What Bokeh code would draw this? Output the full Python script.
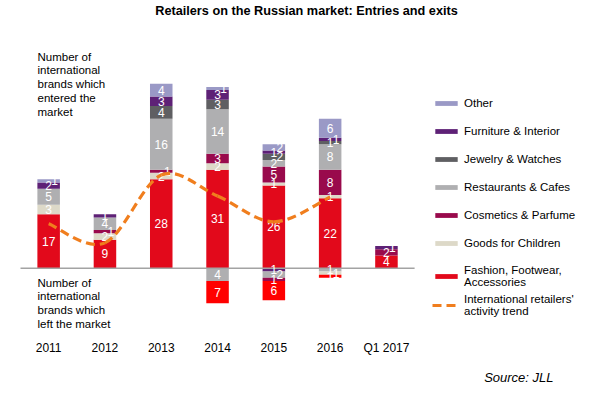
from bokeh.plotting import figure
from bokeh.models import (ColumnDataSource, Legend, LegendItem, Label, Range1d, FixedTicker, Title)
from bokeh.core.properties import value
from bokeh.embed import file_html
from bokeh.resources import INLINE

# ---------------- data ----------------
years = ["2011", "2012", "2013", "2014", "2015", "2016", "Q1 2017"]

keys = ["fashion", "children", "cosmetics", "restaurants", "jewelry", "furniture", "other"]
names = ["Fashion, Footwear,\nAccessories", "Goods for Children", "Cosmetics & Parfume",
         "Restaurants & Cafes", "Jewelry & Watches", "Furniture & Interior", "Other"]

# brands which entered the market
fashion_in = [17, 9, 28, 31, 26, 22, 4]
children_in = [3, 2, 2, 2, 1, 1, 0]
cosmetics_in = [0, 1, 1, 3, 5, 8, 2]
restaurants_in = [5, 4, 16, 14, 2, 8, 0]
jewelry_in = [0, 0, 4, 3, 2, 1, 0]
furniture_in = [2, 1, 3, 3, 1, 1, 1]
other_in = [1, 0, 4, 1, 2, 6, 0]

# brands which left the market
fashion_out = [0, 0, 0, 7, 6, 1, 0]
children_out = [0, 0, 0, 0, 0, 1, 0]
cosmetics_out = [0, 0, 0, 0, 1, 0, 0]
restaurants_out = [0, 0, 0, 4, 2, 1, 0]
jewelry_out = [0, 0, 0, 0, 0, 0, 0]
furniture_out = [0, 0, 0, 0, 1, 0, 0]
other_out = [0, 0, 0, 0, 0, 0, 0]

# international retailers' activity trend
trend_years = ["2011", "2012", "2013", "2014", "2015", "2016"]
trend_values = [14.0, 8.0, 29.3, 22.7, 14.6, 22.4]

# ---------------- styles ----------------
colors = {"fashion": "#E2091B", "children": "#DDD9C8", "cosmetics": "#990A4C",
          "restaurants": "#AFAFB1", "jewelry": "#5F5F62", "furniture": "#5E2176",
          "other": "#9A99C6"}
exit_colors = dict(colors, fashion="#FF0000")
trend_color = "#F07E1E"
FONT = "Liberation Sans"

entries = dict(fashion=fashion_in, children=children_in, cosmetics=cosmetics_in,
               restaurants=restaurants_in, jewelry=jewelry_in, furniture=furniture_in,
               other=other_in)
exits = dict(fashion=fashion_out, children=children_out, cosmetics=cosmetics_out,
             restaurants=restaurants_out, jewelry=jewelry_out, furniture=furniture_out,
             other=other_out)

pos = [i + 0.5 for i in range(len(years))]      # category centres on the x scale
src_in = ColumnDataSource(dict(x=pos, **entries))
src_out = ColumnDataSource(dict(x=pos, **{k: [-v for v in exits[k]] for k in keys}))

pad = 0.3552          # blank space left of the first category (in category widths)
p = figure(x_range=Range1d(-pad, -pad + 10.657), y_range=Range1d(-21.43, 84.16),
           width=600, height=395, output_backend="svg", toolbar_location=None,
           min_border_left=0, min_border_right=0, min_border_top=0,
           min_border_bottom=55, title=None)
p.outline_line_color = None
p.grid.visible = False
p.yaxis.visible = False
p.xaxis.ticker = FixedTicker(ticks=pos, minor_ticks=[])
p.xaxis.major_label_overrides = {x: y for x, y in zip(pos, years)}
p.xaxis.axis_line_color = None
p.xaxis.major_tick_line_color = None
p.xaxis.minor_tick_line_color = None
p.xaxis.major_tick_out = 0
p.xaxis.major_tick_in = 0
p.xaxis.minor_tick_out = 0
p.xaxis.major_label_standoff = 4
p.xaxis.major_label_text_font = FONT
p.xaxis.major_label_text_font_size = "12px"
p.xaxis.major_label_text_color = "#000000"

bw = 0.4
r_in = p.vbar_stack(keys, x="x", width=bw, color=[colors[k] for k in keys],
                    source=src_in, line_color=None)
rev = list(reversed(keys))
p.vbar_stack(rev, x="x", width=bw, color=[exit_colors[k] for k in rev],
             source=src_out, line_color=None)

# zero line across the category area
p.segment(x0=[0], x1=[len(years)], y0=[0], y1=[0], line_color="#A3A3A3", line_width=1.5)

# segment labels (a label crowding the one below it is nudged to the right)
lx, ly, lt, lo = [], [], [], []
for i, xc in enumerate(pos):
    for sign, data, order in ((1, entries, keys), (-1, exits, rev)):
        base, prev, prev_shift = 0, None, False
        for k in order:
            v = data[k][i]
            if v:
                c = base + v / 2
                shift = prev is not None and (c - prev) < 2.5 and not prev_shift
                lx.append(xc); ly.append(sign * c); lt.append(str(v))
                lo.append(6 if shift else 0)
                prev, prev_shift = c, shift
            base += v
p.text(x="x", y="y", text="t", x_offset="o",
       source=ColumnDataSource(dict(x=lx, y=ly, t=lt, o=lo)),
       text_color="white", text_align="center", text_baseline="middle",
       text_font=value(FONT), text_font_size="12px")

# smooth trend line (Catmull-Rom as cubic Bezier through the trend points)
tx = [pos[years.index(y)] for y in trend_years]
pts = list(zip(tx, trend_values))
bz = dict(x0=[], y0=[], x1=[], y1=[], cx0=[], cy0=[], cx1=[], cy1=[])
n = len(pts)
for i in range(n - 1):
    pa = pts[i - 1] if i > 0 else pts[i]
    pb, pc = pts[i], pts[i + 1]
    pd = pts[i + 2] if i + 2 < n else pts[i + 1]
    bz["x0"].append(pb[0]); bz["y0"].append(pb[1])
    bz["x1"].append(pc[0]); bz["y1"].append(pc[1])
    bz["cx0"].append(pb[0] + (pc[0] - pa[0]) / 6); bz["cy0"].append(pb[1] + (pc[1] - pa[1]) / 6)
    bz["cx1"].append(pc[0] - (pd[0] - pb[0]) / 6); bz["cy1"].append(pc[1] - (pd[1] - pb[1]) / 6)
r_trend = p.bezier(x0="x0", y0="y0", x1="x1", y1="y1", cx0="cx0", cy0="cy0", cx1="cx1",
                   cy1="cy1", source=ColumnDataSource(bz), line_color=trend_color,
                   line_width=3.2, line_dash="9 5")

# legends
common = dict(orientation="vertical", glyph_width=28, glyph_height=6, label_standoff=4,
              label_text_font=FONT, label_text_font_size="11.5px", label_text_color="#000000",
              label_height=14, spacing=14, padding=0, margin=0,
              border_line_color=None, background_fill_alpha=0)
leg_a = Legend(items=[LegendItem(label=names[keys.index(k)], renderers=[r_in[keys.index(k)]])
                      for k in rev], location=(432, 48), **common)
leg_b = Legend(items=[LegendItem(label="International retailers'\nactivity trend",
                                 renderers=[r_trend])], location=(432, 19), **common)
p.add_layout(leg_a)
p.add_layout(leg_b)

# texts
lab = dict(x_units="screen", y_units="screen", text_color="#000000")
p.add_layout(Label(x=306, y=326, text="Retailers on the Russian market: Entries and exits",
                   text_align="center", text_baseline="middle", text_font_size="12.7px",
                   text_font_style="bold", text_font=FONT, **lab))
p.add_layout(Label(x=37, y=286, text="Number of\ninternational\nbrands which\nentered the\nmarket",
                   text_baseline="top", text_font_size="11.5px", text_line_height=1.15,
                   text_font=FONT, **lab))
p.add_layout(Label(x=37, y=60, text="Number of\ninternational\nbrands which\nleft the market",
                   text_baseline="top", text_font_size="11.5px", text_line_height=1.15,
                   text_font=FONT, **lab))
p.add_layout(Title(text="Source: JLL", align="right", offset=47, standoff=21,
                   vertical_align="bottom", text_font_size="13px", text_font_style="italic",
                   text_font=FONT, text_color="#000000"), "below")

open("out.html", "w").write(file_html(p, INLINE))
